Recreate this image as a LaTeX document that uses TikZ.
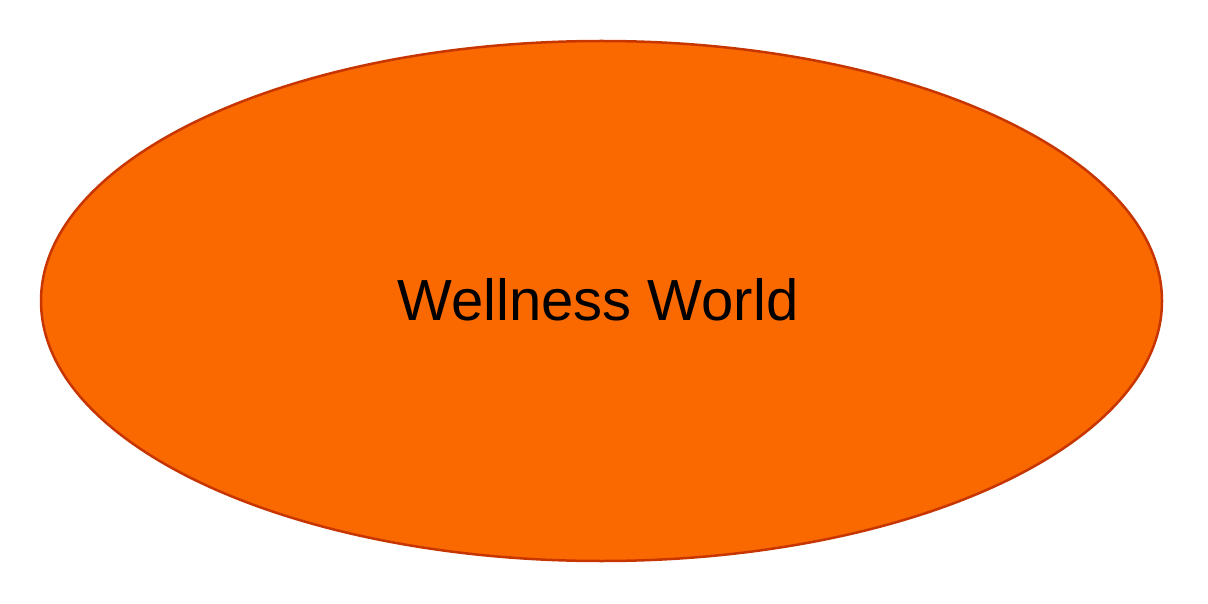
\documentclass[tikz,border=0pt]{standalone}
\usepackage{fontspec}
\setmainfont{Liberation Sans}
\usetikzlibrary{shapes.geometric}
\definecolor{ofill}{HTML}{FA6800}
\definecolor{oline}{HTML}{C73500}
\tikzset{bubble/.style={ellipse, fill=ofill, draw=oline, line width=2.5pt, minimum width=1121pt, minimum height=520pt, inner sep=0pt, font=\fontsize{58}{60}\selectfont}}
\begin{document}
\begin{tikzpicture}[x=1pt,y=-1pt]
\useasboundingbox (0,0) rectangle (1208,604);
\node[bubble] (w) at (601.5,301) {};
\node[font=\fontsize{58}{60}\selectfont, anchor=base, inner sep=0pt] (t) at (598,320) {Wellness World};
\end{tikzpicture}
\end{document}
